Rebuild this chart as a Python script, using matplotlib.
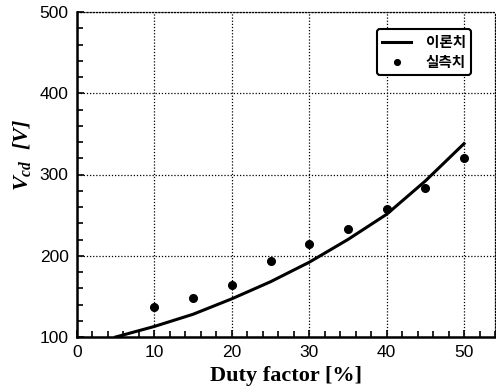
import matplotlib
matplotlib.use("Agg")
import matplotlib.pyplot as plt
from matplotlib.ticker import MultipleLocator

# Data
theory_x = [5, 10, 15, 20, 25, 30, 35, 40, 45, 50]
theory_y = [100, 113, 128, 147, 168, 192, 220, 251, 292, 338]
meas_x = [10, 15, 20, 25, 30, 35, 40, 45, 50]
meas_y = [137, 148, 164, 194, 215, 233, 257, 283, 320]
legend_labels = ["이론치", "실측치"]
xlabel = "Duty factor [%]"

plt.rcParams["mathtext.fontset"] = "custom"
plt.rcParams["mathtext.rm"] = "Liberation Serif:bold:italic"
plt.rcParams["mathtext.it"] = "Liberation Serif:bold:italic"

fig = plt.figure(figsize=(4.96, 3.92), dpi=100)
ax = fig.add_axes([77/496, 1-337/392, (495-77)/496, (337-12)/392])

ax.plot(theory_x, theory_y, color="black", lw=2.2, label=legend_labels[0], zorder=3)
ax.plot(meas_x, meas_y, "o", color="black", ms=5.5, label=legend_labels[1], zorder=3)

ax.set_xlim(0, 54)
ax.set_ylim(100, 500)
ax.xaxis.set_major_locator(MultipleLocator(10))
ax.xaxis.set_minor_locator(MultipleLocator(2))
ax.yaxis.set_major_locator(MultipleLocator(100))
ax.yaxis.set_minor_locator(MultipleLocator(20))
ax.set_xticks([0, 10, 20, 30, 40, 50])

ax.grid(True, which="major", color="black", linestyle=(0, (1, 1.5)), lw=0.9)
for s in ["top", "right"]:
    ax.spines[s].set_linestyle((0, (1, 1.5)))
    ax.spines[s].set_linewidth(0.9)
for s in ["left", "bottom"]:
    ax.spines[s].set_linewidth(1.8)

ax.tick_params(which="both", direction="in", top=False, right=False, width=1.2)
ax.tick_params(which="major", length=5, labelsize=12.5, pad=6)
ax.tick_params(which="minor", length=4)
for lab in ax.get_xticklabels() + ax.get_yticklabels():
    lab.set_family("Liberation Sans")

ax.set_xlabel(xlabel, family="Liberation Serif", fontweight="bold", fontsize=16, labelpad=4)
ax.set_ylabel("$V_{cd}$  [V]", family="Liberation Serif", fontweight="bold",
              style="italic", fontsize=16)
ax.yaxis.set_label_coords(-0.105, 0.56)

leg = ax.legend(loc="upper right", bbox_to_anchor=((471-77)/418, (337-29)/325),
                borderaxespad=0,
                prop={"family": ["Noto Sans CJK KR", "DejaVu Sans"], "weight": "bold", "size": 10.5},
                frameon=True, fancybox=True, edgecolor="black", framealpha=1,
                handlelength=2.0, handletextpad=1.0, borderpad=0.35, labelspacing=0.25,
                markerscale=0.75, shadow=False)
leg.get_frame().set_linewidth(1.5)

fig.savefig("out.png", dpi=100)
